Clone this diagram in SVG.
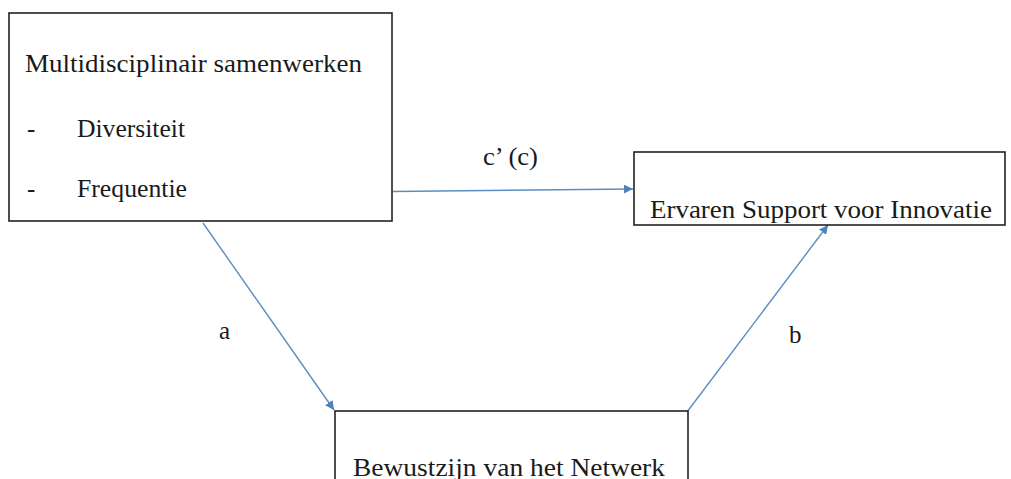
<svg xmlns="http://www.w3.org/2000/svg" width="1011" height="479" viewBox="0 0 1011 479">
  <style>
    .box { fill: #ffffff; stroke: #222222; stroke-width: 1.6; }
    .lbl { font-family: "Liberation Serif", "Times New Roman", serif; font-size: 25px; fill: #1a1a1a; }
    .edge { stroke: #5b8dc4; stroke-width: 1.4; fill: none; marker-end: url(#arrow); }
  </style>
  <defs>
    <marker id="arrow" viewBox="0 0 10 10" refX="10" refY="5" markerWidth="9" markerHeight="9" markerUnits="userSpaceOnUse" orient="auto">
      <path d="M0,0 L10,5 L0,10 Z" fill="#4f81bd"/>
    </marker>
  </defs>
  <rect width="1011" height="479" fill="#ffffff"/>

  <!-- arrows and their path labels -->
  <g id="connectors">
    <line class="edge" x1="393" y1="191.5" x2="633" y2="189"/>
    <line class="edge" x1="203" y1="223" x2="334" y2="410"/>
    <line class="edge" x1="687" y1="412" x2="828" y2="225"/>
    <text class="lbl" x="483" y="165" textLength="55" lengthAdjust="spacingAndGlyphs">c’ (c)</text>
    <text class="lbl" x="219" y="339">a</text>
    <text class="lbl" x="789" y="343">b</text>
  </g>

  <g id="node-multidisciplinair">
    <rect class="box" x="9" y="13" width="383" height="208"/>
    <text class="lbl" x="25" y="72" textLength="337" lengthAdjust="spacingAndGlyphs">Multidisciplinair  samenwerken</text>
    <text class="lbl" x="27" y="137">-</text>
    <text class="lbl" x="77" y="137" textLength="108" lengthAdjust="spacingAndGlyphs">Diversiteit</text>
    <text class="lbl" x="27" y="197">-</text>
    <text class="lbl" x="77" y="197" textLength="110" lengthAdjust="spacingAndGlyphs">Frequentie</text>
  </g>

  <g id="node-support">
    <rect class="box" x="634" y="152" width="371" height="73"/>
    <text class="lbl" x="650" y="218" textLength="342" lengthAdjust="spacingAndGlyphs">Ervaren  Support voor  Innovatie</text>
  </g>

  <g id="node-netwerk">
    <rect class="box" x="335" y="411" width="353" height="80"/>
    <text class="lbl" x="353" y="476" textLength="312" lengthAdjust="spacingAndGlyphs">Bewustzijn  van het  Netwerk</text>
  </g>
</svg>
